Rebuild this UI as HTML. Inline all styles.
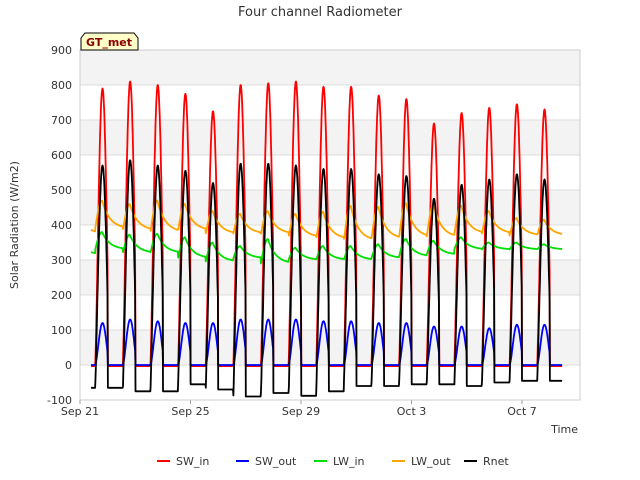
<!DOCTYPE html>
<html><head><meta charset="utf-8"><style>
body{margin:0;background:#fff}
svg{display:block;font-family:"DejaVu Sans","Liberation Sans",sans-serif}
</style></head><body>
<svg id="c" width="640" height="480"></svg>
<script>
const days=["Sep 21","Sep 25","Sep 29","Oct 3","Oct 7"];
const dayIdx=[0,4,8,12,16];
const yTicks=[-100,0,100,200,300,400,500,600,700,800,900];
const swInPeak=[790,810,800,775,725,800,805,810,795,795,770,760,690,720,735,745,730];
const swOutPeak=[120,130,125,120,120,130,130,130,125,125,120,120,110,110,105,115,115];
const lwInNight=[315,330,320,320,305,295,305,290,300,300,300,305,310,315,330,330,330];
const lwInPeak=[380,372,375,365,350,340,360,335,340,340,345,360,355,365,350,350,345];
const lwOutNight=[375,390,385,380,385,375,375,375,365,360,355,360,365,365,375,375,370];
const lwOutPeak=[470,460,470,460,440,432,440,432,438,455,452,462,458,455,440,420,415];
const rnetPeak=[570,585,570,555,520,575,575,570,560,560,545,540,475,515,530,545,530];
const rnetNight=[-65,-75,-75,-55,-70,-90,-80,-88,-75,-60,-60,-55,-55,-60,-50,-45,-45];
const X0=80,X1=580,Y0=50,Y1=400;
const xs=t=>X0+t*27.625;
const ys=v=>Y1-(v+100)*(Y1-Y0)/1000;
const svg=document.getElementById('c');
const NS='http://www.w3.org/2000/svg';
function el(tag,attrs,parent){const e=document.createElementNS(NS,tag);for(const k in attrs)e.setAttribute(k,attrs[k]);(parent||svg).appendChild(e);return e;}
// background bands
for(let v=800;v>=0;v-=200){const r=el('rect',{x:X0,y:ys(v+100),width:X1-X0,height:ys(v)-ys(v+100),fill:'#f3f3f3'});}
yTicks.forEach(v=>{const l=el('line',{x1:X0,x2:X1,y1:ys(v),y2:ys(v),stroke:'#dcdcdc','stroke-width':1});
const t=el('text',{x:X0-8,y:ys(v)+4,'text-anchor':'end','font-size':11,fill:'#333'});t.textContent=v;});
dayIdx.forEach((d,i)=>{const t=el('text',{x:xs(d),y:415,'text-anchor':'middle','font-size':11,fill:'#333'});t.textContent=days[i];
el('line',{x1:xs(d),x2:xs(d),y1:Y1,y2:Y1+4,stroke:'#999'});});
el('rect',{x:X0,y:Y0,width:X1-X0,height:Y1-Y0,fill:'none',stroke:'#ccc'});
// series generation
const T0=0.4,T1=17.45,N=1400;
const rise=0.55,len=0.53;
function sun(t){const d=Math.floor(t);const p=(t-d-rise)/len;if(p>0&&p<1)return {d,f:Math.pow(Math.sin(Math.PI*p),1.3),day:true,p};return {d:(t-d<rise?d-1:d),f:0,day:false,p};}
function series(fn){let s='';for(let i=0;i<=N;i++){const t=T0+(T1-T0)*i/N;const v=fn(t);s+=(i?'L':'M')+xs(t).toFixed(1)+','+ys(v).toFixed(1);}return s;}
const cl=(a,d)=>a[Math.max(0,Math.min(a.length-1,d))];
function lwShape(t,night,peak){const d=Math.floor(t);const tp=d+rise+0.25;let dd=d,dt=t-tp;if(t<d+rise){dd=d-1;dt=t-(dd+rise+0.25);}
const n=cl(night,dd+1),pk=cl(peak,dd);
if(dt<-0.25)return n; if(dt<0)return n+(pk-n)*Math.sin(Math.PI/2*(dt+0.25)/0.25);
const nb=cl(night,dd+1);return nb+(pk-nb)*Math.exp(-dt/0.28);}
const defs=[
 ['SW_in','#ff0000',t=>{const s=sun(t);return s.day?cl(swInPeak,s.d)*s.f:-3;}],
 ['LW_in','#00e000',t=>lwShape(t,lwInNight,lwInPeak)],
 ['LW_out','#ffa500',t=>lwShape(t,lwOutNight,lwOutPeak)],
 ['SW_out','#0000ff',t=>{const s=sun(t);return s.day?cl(swOutPeak,s.d)*Math.pow(s.f,1.2):0;}],
 ['Rnet','#000000',t=>{const s=sun(t);const n=cl(rnetNight,s.d);if(s.day){return n+(cl(rnetPeak,s.d)-n)*Math.pow(s.f,0.9);}return n;}]
];
defs.forEach(([name,col,fn])=>{const p=el('path',{d:series(fn),fill:'none',stroke:col,'stroke-width':1.8,'stroke-linejoin':'round'});});
// labels
let t=el('text',{x:320,y:16,'text-anchor':'middle','font-size':13,fill:'#333'});t.textContent='Four channel Radiometer';
t=el('text',{x:18,y:225,'text-anchor':'middle','font-size':11,fill:'#333',transform:'rotate(-90 18 225)'});t.textContent='Solar Radiation (W/m2)';
t=el('text',{x:578,y:433,'text-anchor':'end','font-size':11,fill:'#333'});t.textContent='Time';
const g=el('g',{});
el('path',{d:'M81,50 L81,38 L85,33 L134,33 L138,38 L138,50 Z',fill:'#ffffc8',stroke:'#000','stroke-width':1},g);
t=el('text',{x:109,y:46,'text-anchor':'middle','font-size':11,'font-weight':'bold',fill:'#8b0000'},g);t.textContent='GT_met';
const leg=[['SW_in','#ff0000',157],['SW_out','#0000ff',236],['LW_in','#00e000',314],['LW_out','#ffa500',392],['Rnet','#000000',464]];
leg.forEach(([n,c,x])=>{const lg=el('g',{});
el('line',{x1:x,x2:x+13,y1:461,y2:461,stroke:c,'stroke-width':2},lg);
const tt=el('text',{x:x+19,y:465,'font-size':11,fill:'#333'},lg);tt.textContent=n;});
</script>
</body></html>
